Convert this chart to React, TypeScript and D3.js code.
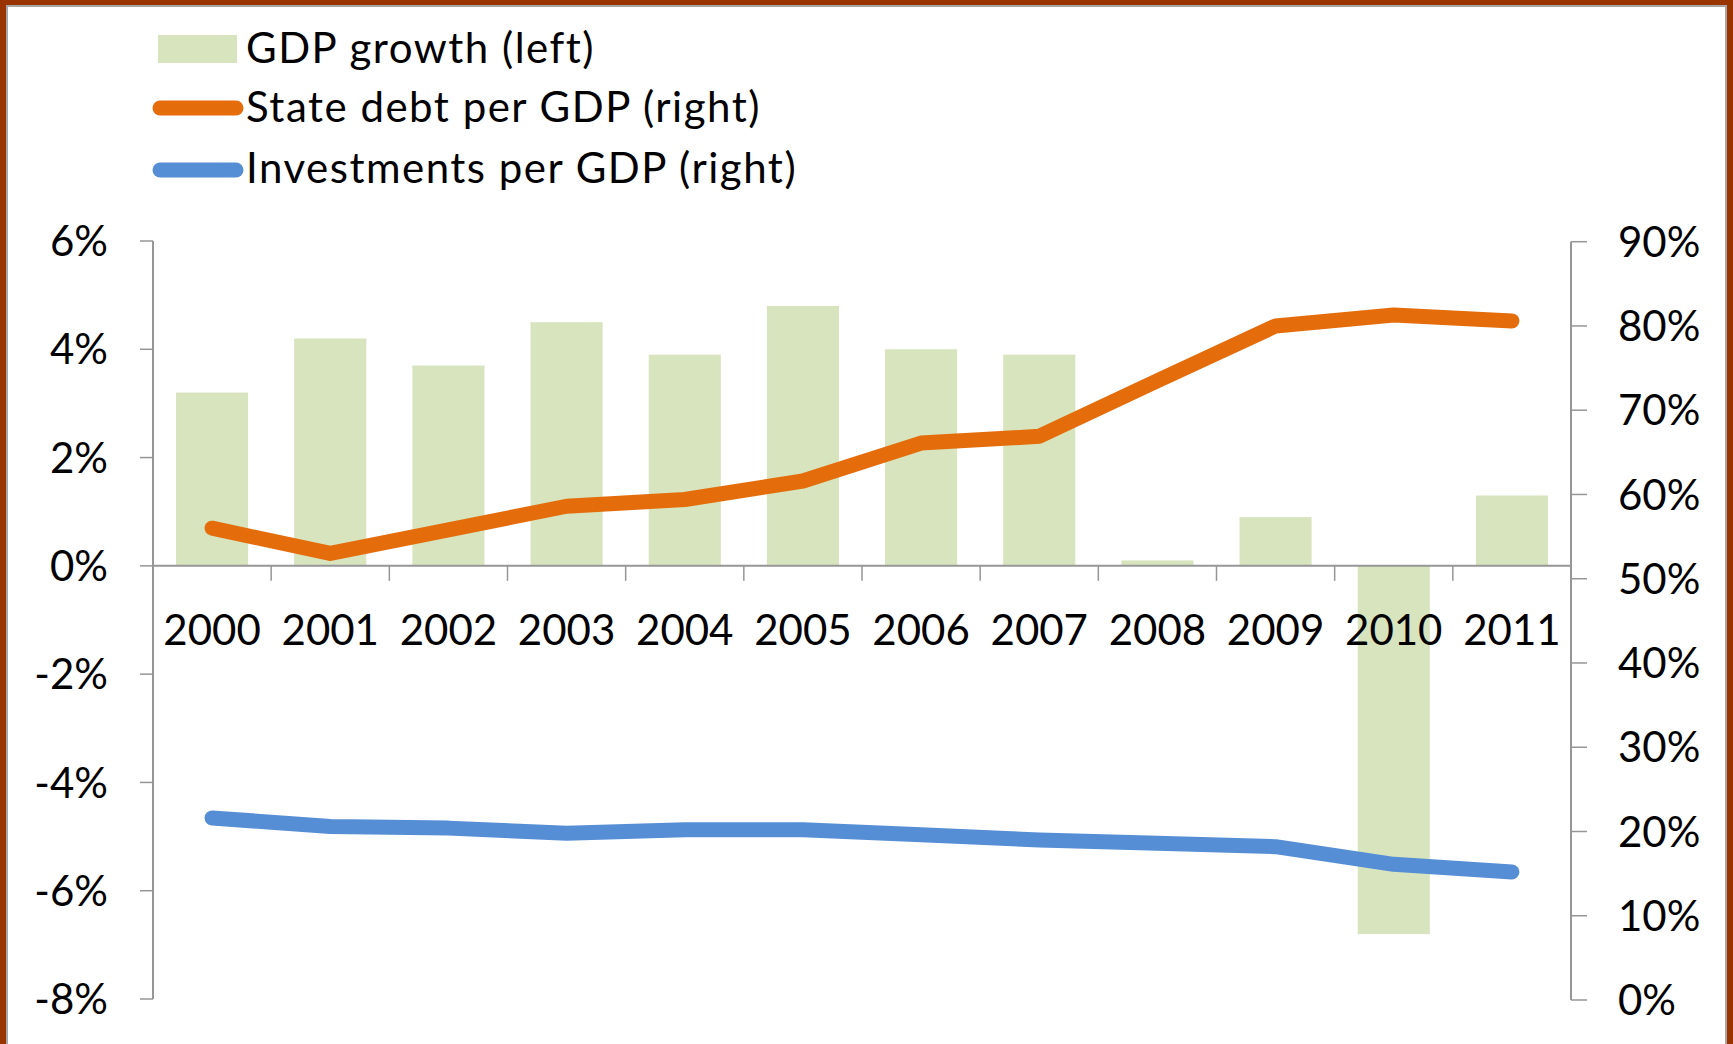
import React from "react";
import * as d3 from "d3";

const years = ["2000","2001","2002","2003","2004","2005","2006","2007","2008","2009","2010","2011"];
const gdpGrowth = [3.2, 4.2, 3.7, 4.5, 3.9, 4.8, 4.0, 3.9, 0.1, 0.9, -6.8, 1.3];
const stateDebt = [56.0, 53.0, 55.8, 58.6, 59.4, 61.6, 66.1, 66.9, 73.5, 80.0, 81.3, 80.6];
const investments = [21.6, 20.6, 20.4, 19.8, 20.2, 20.2, 19.6, 19.0, 18.6, 18.2, 16.1, 15.2];
const leftTicks = [-8, -6, -4, -2, 0, 2, 4, 6];
const rightTicks = [0, 10, 20, 30, 40, 50, 60, 70, 80, 90];
const legendLabels = ["GDP growth (left)", "State debt per GDP (right)", "Investments per GDP (right)"];

const W = 1733;
const H = 1044;
const FONT = "Lato, 'Open Sans', sans-serif";
const BAR = "#D7E4BD";
const ORANGE = "#E46C0A";
const BLUE = "#558ED5";
const AXIS = "#969696";

export default function App() {
  const x = d3.scaleBand<string>().domain(years).range([153, 1571]).paddingInner(0.39).paddingOuter(0.195);
  const yL = d3.scaleLinear().domain([-8, 6]).range([999, 241]);
  const yR = d3.scaleLinear().domain([0, 90]).range([1000, 241.7]);
  const step = x.step();
  const cx = (i: number) => (x(years[i]) as number) + x.bandwidth() / 2;

  const line = d3.line<number>().x((_, i) => cx(i)).y((d) => yR(d));
  const boundaries = d3.range(1, years.length).map((k) => 153 + k * step);

  return (
    <div style={{ position: "absolute", left: 0, top: 0, width: W, height: H, overflow: "hidden" }}>
      <svg width={W} height={H} style={{ display: "block", fontFamily: FONT }}>
        <rect x={0} y={0} width={W} height={H} fill="#fff" />
        {/* frame */}
        <rect x={3} y={2.5} width={W - 6} height={H + 20} fill="none" stroke="#993300" strokeWidth={6} />
        <rect x={7} y={6} width={W - 14} height={H + 20} fill="none" stroke="#A6A6A6" strokeWidth={2} />

        {/* bars */}
        {gdpGrowth.map((v, i) => (
          <rect key={years[i]} x={x(years[i]) as number} width={x.bandwidth()}
            y={yL(Math.max(0, v))} height={Math.abs(yL(v) - yL(0))} fill={BAR} />
        ))}

        {/* x axis */}
        <line x1={153} x2={1571} y1={yL(0)} y2={yL(0)} stroke={AXIS} strokeWidth={2} />
        {boundaries.map((b, k) => (
          <line key={k} x1={b} x2={b} y1={yL(0)} y2={yL(0) + 15} stroke={AXIS} strokeWidth={1.5} />
        ))}

        {/* left axis */}
        <line x1={153} x2={153} y1={yL(6)} y2={yL(-8)} stroke={AXIS} strokeWidth={2} />
        {leftTicks.map((t) => (
          <g key={t}>
            <line x1={140} x2={153} y1={yL(t)} y2={yL(t)} stroke={AXIS} strokeWidth={1.5} />
            <text x={108} y={yL(t)} dy="0.36em" textAnchor="end" fontSize={42} fill="#000">{t + "%"}</text>
          </g>
        ))}

        {/* right axis */}
        <line x1={1571} x2={1571} y1={yR(90)} y2={yR(0)} stroke={AXIS} strokeWidth={2} />
        {rightTicks.map((t) => (
          <g key={t}>
            <line x1={1571} x2={1587} y1={yR(t)} y2={yR(t)} stroke={AXIS} strokeWidth={1.5} />
            <text x={1618} y={yR(t)} dy="0.36em" textAnchor="start" fontSize={42} fill="#000">{t + "%"}</text>
          </g>
        ))}

        {/* x labels */}
        {years.map((yr, i) => (
          <text key={yr} x={cx(i)} y={645} textAnchor="middle" fontSize={42} fill="#000">{yr}</text>
        ))}

        {/* lines */}
        <path d={line(stateDebt) || ""} fill="none" stroke={ORANGE} strokeWidth={15} strokeLinecap="round" strokeLinejoin="round" />
        <path d={line(investments) || ""} fill="none" stroke={BLUE} strokeWidth={15} strokeLinecap="round" strokeLinejoin="round" />

        {/* legend */}
        <g style={{ letterSpacing: "1.5px" }}>
          <rect x={158} y={35} width={79} height={28} fill={BAR} />
          <text x={246} y={63} fontSize={42} fill="#000">{legendLabels[0]}</text>
          <line x1={160} x2={236} y1={108} y2={108} stroke={ORANGE} strokeWidth={15} strokeLinecap="round" />
          <text x={246} y={122} fontSize={42} fill="#000">{legendLabels[1]}</text>
          <line x1={160} x2={236} y1={170} y2={170} stroke={BLUE} strokeWidth={15} strokeLinecap="round" />
          <text x={246} y={183} fontSize={42} fill="#000">{legendLabels[2]}</text>
        </g>
      </svg>
    </div>
  );
}
